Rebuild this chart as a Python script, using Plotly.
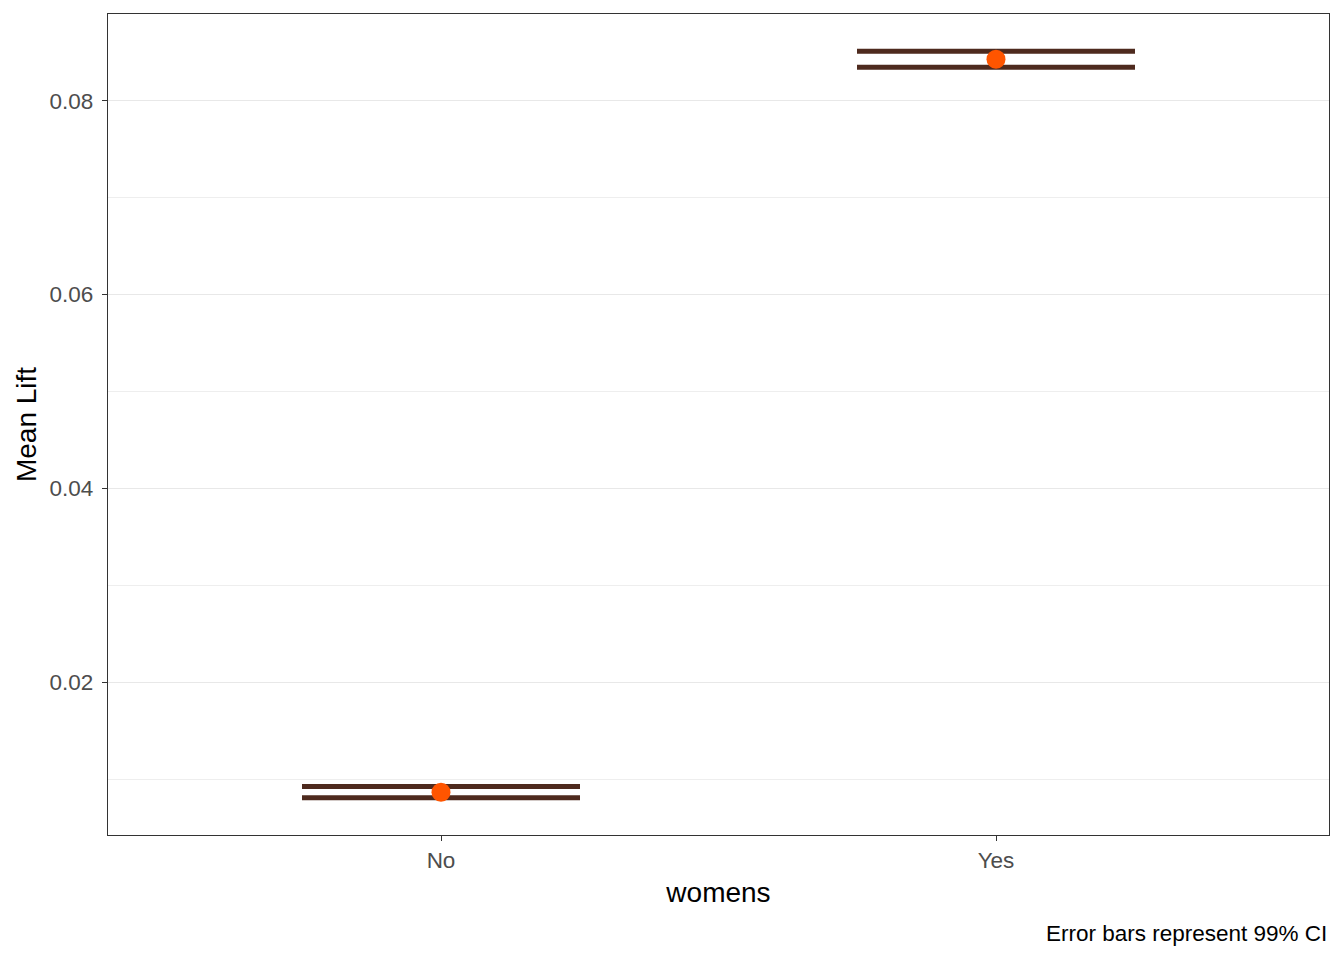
import plotly.graph_objects as go

categories = ["No", "Yes"]
mean_lift = [0.00865, 0.08428]
ci_lower = [0.00808, 0.08345]
ci_upper = [0.00923, 0.08510]

err_plus = [u - m for u, m in zip(ci_upper, mean_lift)]
err_minus = [m - l for m, l in zip(mean_lift, ci_lower)]

lo = min(ci_lower)
hi = max(ci_upper)
pad = (hi - lo) * 0.05
yrange = [lo - pad, hi + pad]

FONT = "Liberation Sans, Arial, sans-serif"
LINE_COL = "#4E2A1E"
PT_COL = "#FF5500"

fig = go.Figure()
fig.add_trace(go.Scatter(
    x=categories,
    y=mean_lift,
    mode="markers",
    marker=dict(size=19, color=PT_COL, line=dict(width=0)),
    error_y=dict(
        type="data",
        symmetric=False,
        array=err_plus,
        arrayminus=err_minus,
        color=LINE_COL,
        thickness=5,
        width=139,
    ),
    showlegend=False,
    hoverinfo="x+y",
))

fig.update_layout(
    width=1328,
    height=944,
    margin=dict(l=100, r=7, t=6, b=117),
    paper_bgcolor="white",
    plot_bgcolor="white",
    font=dict(family=FONT, color="#000000"),
    xaxis=dict(
        type="category",
        categoryorder="array",
        categoryarray=categories,
        range=[-0.6, 1.6],
        showgrid=False,
        zeroline=False,
        showline=True,
        mirror=True,
        linecolor="#333333",
        linewidth=1.3,
        ticks="outside",
        ticklen=5,
        tickwidth=1.3,
        tickcolor="#333333",
        tickfont=dict(family=FONT, size=22.5, color="#4D4D4D"),
        title=dict(text="womens", font=dict(family=FONT, size=28, color="#000000"), standoff=10),
    ),
    yaxis=dict(
        range=yrange,
        tickvals=[0.02, 0.04, 0.06, 0.08],
        ticktext=["0.02", "0.04", "0.06", "0.08"],
        showgrid=True,
        gridcolor="#E8E8E8",
        gridwidth=1.4,
        minor=dict(tickvals=[0.01, 0.03, 0.05, 0.07], showgrid=True,
                   gridcolor="#EEEEEE", gridwidth=0.9, ticks=""),
        zeroline=False,
        showline=True,
        mirror=True,
        linecolor="#333333",
        linewidth=1.3,
        ticks="outside",
        ticklen=5,
        tickwidth=1.3,
        tickcolor="#333333",
        ticklabelstandoff=4,
        tickfont=dict(family=FONT, size=22.5, color="#4D4D4D"),
        title=dict(text="Mean Lift", font=dict(family=FONT, size=28, color="#000000"), standoff=4),
    ),
    annotations=[dict(
        text="Error bars represent 99% CI",
        xref="paper", yref="paper",
        x=1.0, y=-98 / 821,
        xanchor="right", yanchor="middle",
        showarrow=False,
        font=dict(family=FONT, size=22.5, color="#000000"),
    )],
)

fig.write_html("out.html")
